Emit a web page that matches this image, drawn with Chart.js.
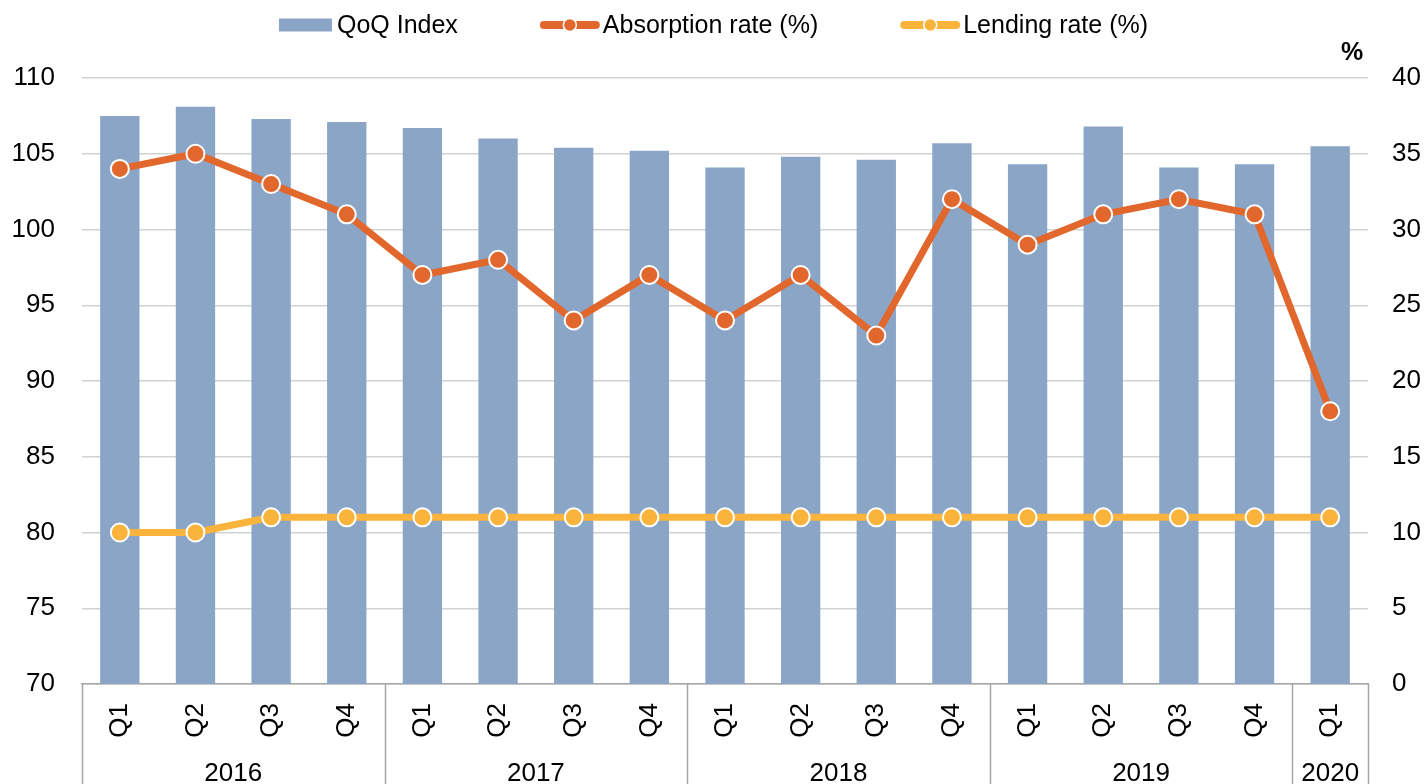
<!DOCTYPE html>
<html>
<head>
<meta charset="utf-8">
<script src="https://cdn.jsdelivr.net/npm/chart.js@4.4.1/dist/chart.umd.min.js"></script>
<style>
html,body{margin:0;padding:0;background:#fff;}
#wrap{width:1427px;height:784px;}
</style>
</head>
<body>
<div id="wrap"><canvas id="c" width="1427" height="784"></canvas></div>
<script>
// ---- data ----
const quarters = ['Q1','Q2','Q3','Q4','Q1','Q2','Q3','Q4','Q1','Q2','Q3','Q4','Q1','Q2','Q3','Q4','Q1'];
const yearLabels = ['2016','2017','2018','2019','2020'];
const quartersPerYear = [4,4,4,4,1];
const qoqIndex = [107.5,108.1,107.3,107.1,106.7,106.0,105.4,105.2,104.1,104.8,104.6,105.7,104.3,106.8,104.1,104.3,105.5];
const absorptionRate = [34,35,33,31,27,28,24,27,24,27,23,32,29,31,32,31,18];
const lendingRate = [10,10,11,11,11,11,11,11,11,11,11,11,11,11,11,11,11];
const leftAxis = {min:70, max:110, step:5};
const rightAxis = {min:0, max:40, step:5};
const rightAxisUnit = '%';

// ---- styles ----
const FONT = "'Liberation Sans', Arial, Helvetica, sans-serif";
const BAR_COLOR = '#8ba5c7';
const ORANGE = '#e1672d';
const GOLD = '#fab43c';
const GRID = '#d2d2d2';
const AXIS = '#a6a6a6';

Chart.defaults.font.family = FONT;
Chart.defaults.color = '#000';

const extras = {
  id: 'extras',
  afterDraw(chart) {
    const {ctx, chartArea, scales} = chart;
    const x = scales.x;
    const H = chart.height;
    ctx.save();
    // year group separators and labels
    ctx.strokeStyle = AXIS;
    ctx.lineWidth = 1.5;
    const bounds = [chartArea.left];
    let idx = 0;
    quartersPerYear.forEach((cnt) => {
      idx += cnt;
      if (idx < quarters.length) {
        bounds.push((x.getPixelForValue(idx - 1) + x.getPixelForValue(idx)) / 2);
      } else {
        bounds.push(chartArea.right);
      }
    });
    bounds.forEach((b) => {
      ctx.beginPath();
      ctx.moveTo(Math.round(b) + 0.5, chartArea.bottom);
      ctx.lineTo(Math.round(b) + 0.5, H);
      ctx.stroke();
    });
    ctx.fillStyle = '#000';
    ctx.font = '26px ' + FONT;
    ctx.textAlign = 'center';
    ctx.textBaseline = 'alphabetic';
    yearLabels.forEach((y, i) => {
      ctx.fillText(y, (bounds[i] + bounds[i + 1]) / 2, 781);
    });

    // right axis unit
    ctx.font = 'bold 25px ' + FONT;
    ctx.textAlign = 'center';
    ctx.fillText(rightAxisUnit, chartArea.right - 16, 60);

    // legend
    ctx.font = '25px ' + FONT;
    ctx.textAlign = 'left';
    const ds = chart.data.datasets;
    const items = ds.map((d) => {
      const isBar = d.type === 'bar';
      const sw = isBar ? 53 : 60;
      const gap = isBar ? 5 : 3;
      const tw = ctx.measureText(d.label).width;
      return {d, isBar, sw, gap, tw, w: sw + gap + tw};
    });
    const spacing = 82;
    const total = items.reduce((a, it) => a + it.w, 0) + spacing * (items.length - 1);
    let cx = (chart.width - total) / 2;
    const ly = 25;
    items.forEach((it) => {
      if (it.isBar) {
        ctx.fillStyle = it.d.backgroundColor;
        ctx.fillRect(cx, ly - 6.5, it.sw, 13);
      } else {
        ctx.strokeStyle = it.d.borderColor;
        ctx.lineWidth = 8;
        ctx.lineCap = 'round';
        ctx.beginPath();
        ctx.moveTo(cx + 4, ly);
        ctx.lineTo(cx + it.sw - 4, ly);
        ctx.stroke();
        ctx.beginPath();
        ctx.arc(cx + it.sw / 2, ly, 6.5, 0, Math.PI * 2);
        ctx.fillStyle = it.d.pointBackgroundColor;
        ctx.fill();
        ctx.lineWidth = 1.5;
        ctx.strokeStyle = '#fff';
        ctx.stroke();
      }
      ctx.fillStyle = '#000';
      ctx.textBaseline = 'alphabetic';
      ctx.fillText(it.d.label, cx + it.sw + it.gap, 33);
      cx += it.w + spacing;
    });
    ctx.restore();
  }
};

new Chart(document.getElementById('c'), {
  data: {
    labels: quarters,
    datasets: [
      {
        type: 'bar', label: 'QoQ Index', data: qoqIndex, yAxisID: 'y',
        backgroundColor: BAR_COLOR, borderWidth: 0,
        barPercentage: 0.52, categoryPercentage: 1.0, order: 3
      },
      {
        type: 'line', label: 'Absorption rate (%)', data: absorptionRate, yAxisID: 'y1',
        borderColor: ORANGE, borderWidth: 7, tension: 0,
        pointRadius: 9, pointBackgroundColor: ORANGE, pointBorderColor: '#fff', pointBorderWidth: 2,
        order: 1
      },
      {
        type: 'line', label: 'Lending rate (%)', data: lendingRate, yAxisID: 'y1',
        borderColor: GOLD, borderWidth: 7, tension: 0,
        pointRadius: 9, pointBackgroundColor: GOLD, pointBorderColor: '#fff', pointBorderWidth: 2,
        order: 2
      }
    ]
  },
  options: {
    responsive: false,
    animation: false,
    layout: {padding: {top: 78, left: 0, right: 0, bottom: 0}},
    plugins: {legend: {display: false}, tooltip: {enabled: false}},
    scales: {
      x: {
        type: 'category', offset: true,
        grid: {display: false, drawTicks: false},
        border: {display: true, color: AXIS, width: 1.5},
        ticks: {autoSkip: false, minRotation: 90, maxRotation: 90, padding: 19, font: {size: 26}, color: '#000'},
        afterFit: (s) => { s.height = 100; }
      },
      y: {
        position: 'left', min: leftAxis.min, max: leftAxis.max,
        ticks: {stepSize: leftAxis.step, padding: 27, font: {size: 26}, color: '#000'},
        grid: {color: GRID, lineWidth: 1.5, drawTicks: false},
        border: {display: false},
        afterFit: (s) => { s.width = 82; }
      },
      y1: {
        position: 'right', min: rightAxis.min, max: rightAxis.max,
        ticks: {stepSize: rightAxis.step, padding: 24, font: {size: 26}, color: '#000'},
        grid: {display: false, drawTicks: false},
        border: {display: false},
        afterFit: (s) => { s.width = 59; }
      }
    }
  },
  plugins: [extras]
});
</script>
</body>
</html>
